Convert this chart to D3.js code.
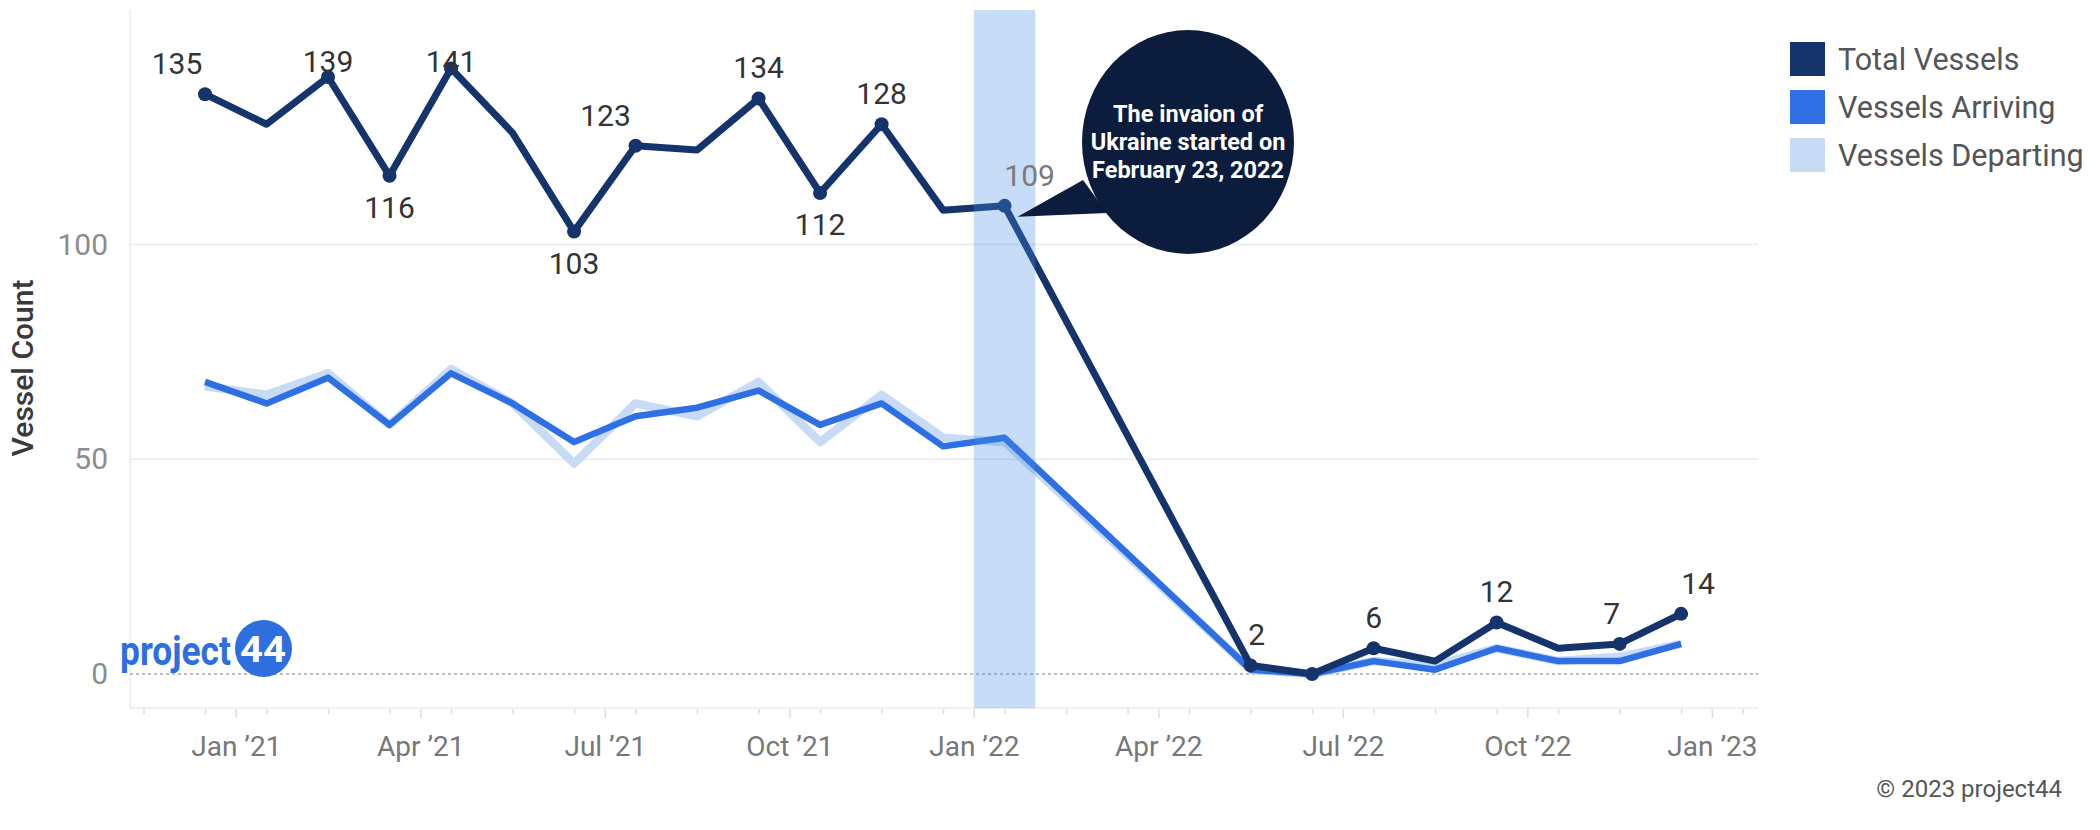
<!DOCTYPE html>
<html>
<head>
<meta charset="utf-8">
<script src="https://cdn.jsdelivr.net/npm/d3@7"></script>
<style>
  body { margin: 0; background: #fff; }
  svg { display: block; font-family: Roboto, "Noto Sans", sans-serif; }
</style>
</head>
<body>
<div id="chart"></div>
<script>
// data (months with no data, Feb-Apr 2022, are skipped)
const months = ["2020-12", "2021-01", "2021-02", "2021-03", "2021-04", "2021-05", "2021-06",
  "2021-07", "2021-08", "2021-09", "2021-10", "2021-11", "2021-12", "2022-01",
  "2022-05", "2022-06", "2022-07", "2022-08", "2022-09", "2022-10", "2022-11", "2022-12"];
const totalVessels     = [135, 128, 139, 116, 141, 126, 103, 123, 122, 134, 112, 128, 108, 109, 2, 0, 6, 3, 12, 6, 7, 14];
const vesselsArriving  = [68, 63, 69, 58, 70, 63, 54, 60, 62, 66, 58, 63, 53, 55, 1, 0, 3, 1, 6, 3, 3, 7];
const vesselsDeparting = [67, 65, 70, 58, 71, 63, 49, 63, 60, 68, 54, 65, 55, 54, 1, 0, 3, 2, 6, 3, 4, 7];

const seriesNames = ["Total Vessels", "Vessels Arriving", "Vessels Departing"];
const xTickMonths = ["2021-01", "2021-04", "2021-07", "2021-10", "2022-01", "2022-04", "2022-07", "2022-10", "2023-01"];
const xTickLabels = ["Jan \u201921", "Apr \u201921", "Jul \u201921", "Oct \u201921", "Jan \u201922", "Apr \u201922", "Jul \u201922", "Oct \u201922", "Jan \u201923"];
const yTicks = [0, 50, 100];
const bandMonth = "2022-01";
const calloutLines = ["The invaion of", "Ukraine started on", "February 23, 2022"];

// label layout for the total line (which months get a label and where)
const labelLayout = {
  "2020-12": {dx: -28}, "2021-02": {}, "2021-03": {below: true}, "2021-04": {},
  "2021-06": {below: true}, "2021-07": {dx: -30}, "2021-09": {}, "2021-10": {below: true},
  "2021-11": {}, "2022-01": {dx: 25, muted: true}, "2022-05": {dx: 6}, "2022-07": {},
  "2022-09": {}, "2022-11": {dx: -8}, "2022-12": {dx: 17}
};
const dotMonths = Object.keys(labelLayout).concat(["2022-06"]);

const colors = {total: "#15346b", arriving: "#2e6fe3", departing: "#c8dbf6"};

const width = 2100, height = 830;
const plot = {left: 130, right: 1758, top: 10, bottom: 708};

// month index: Dec 2020 = 0
const monthIndex = m => {
  const [yy, mm] = m.split("-").map(Number);
  return (yy - 2020) * 12 + (mm - 1) - 11;
};

const rows = months.map((m, i) => ({
  month: m, i: monthIndex(m),
  total: totalVessels[i], arriving: vesselsArriving[i], departing: vesselsDeparting[i]
}));

const x = d3.scaleLinear().domain([-1.22, 25.25]).range([plot.left, plot.right]);
const y = d3.scaleLinear().domain([-7.92, 154.6]).range([plot.bottom, plot.top]);

const svg = d3.select("#chart").append("svg")
  .attr("width", width)
  .attr("height", height);

// pane border + gridlines
svg.append("line")
  .attr("x1", plot.left).attr("x2", plot.left)
  .attr("y1", plot.top).attr("y2", plot.bottom)
  .attr("stroke", "#f0f0f0").attr("stroke-width", 2);

svg.append("line")
  .attr("x1", plot.left).attr("x2", plot.right)
  .attr("y1", plot.bottom).attr("y2", plot.bottom)
  .attr("stroke", "#f0f0f0").attr("stroke-width", 2);

svg.append("g")
  .selectAll("line")
  .data(yTicks.filter(d => d !== 0))
  .join("line")
    .attr("x1", plot.left).attr("x2", plot.right)
    .attr("y1", d => y(d)).attr("y2", d => y(d))
    .attr("stroke", "#eeeeee").attr("stroke-width", 2);

// zero line is dotted
svg.append("line")
  .attr("x1", plot.left).attr("x2", plot.right)
  .attr("y1", y(0)).attr("y2", y(0))
  .attr("stroke", "#bdbdbd").attr("stroke-width", 2)
  .attr("stroke-dasharray", "3,3");

// y axis
const yAxis = svg.append("g")
  .attr("transform", `translate(${plot.left},0)`)
  .call(d3.axisLeft(y).tickValues(yTicks).tickSize(0).tickPadding(22));
yAxis.select(".domain").remove();
yAxis.selectAll("text")
  .attr("font-family", "Roboto, sans-serif")
  .attr("font-size", 30)
  .attr("fill", "#8c8c8c");

// x axis: minor ticks at each month, major ticks + labels at quarter starts
const minorAxis = svg.append("g")
  .attr("transform", `translate(0,${plot.bottom + 1})`)
  .call(d3.axisBottom(x).tickValues(d3.range(-1, 26)).tickSize(5).tickFormat(""));
minorAxis.select(".domain").remove();
minorAxis.selectAll("line").attr("stroke", "#dddddd").attr("stroke-width", 1.5);

const xAxis = svg.append("g")
  .attr("transform", `translate(0,${plot.bottom + 1})`)
  .call(d3.axisBottom(x)
    .tickValues(xTickMonths.map(m => monthIndex(m) - 0.5))
    .tickFormat((d, i) => xTickLabels[i])
    .tickSize(9)
    .tickPadding(18));
xAxis.select(".domain").remove();
xAxis.selectAll("line").attr("stroke", "#dddddd").attr("stroke-width", 1.5);
xAxis.selectAll("text")
  .attr("font-family", "Roboto, sans-serif")
  .attr("font-size", 28)
  .attr("fill", "#777");

// y axis title
svg.append("text")
  .attr("transform", "translate(33,368) rotate(-90)")
  .attr("text-anchor", "middle")
  .attr("font-size", 30)
  .attr("font-weight", 500)
  .attr("fill", "#3a3a3a")
  .text("Vessel Count");

// lines
const lineFor = key => d3.line().x(d => x(d.i)).y(d => y(d[key]));

svg.append("path")
  .datum(rows)
  .attr("d", lineFor("departing"))
  .attr("fill", "none")
  .attr("stroke", colors.departing)
  .attr("stroke-width", 8.5)
  .attr("stroke-linejoin", "round");

svg.append("path")
  .datum(rows)
  .attr("d", lineFor("arriving"))
  .attr("fill", "none")
  .attr("stroke", colors.arriving)
  .attr("stroke-width", 6.5)
  .attr("stroke-linejoin", "round");

svg.append("path")
  .datum(rows)
  .attr("d", lineFor("total"))
  .attr("fill", "none")
  .attr("stroke", colors.total)
  .attr("stroke-width", 7)
  .attr("stroke-linejoin", "round");

svg.append("g")
  .selectAll("circle")
  .data(rows.filter(d => dotMonths.includes(d.month)))
  .join("circle")
    .attr("cx", d => x(d.i))
    .attr("cy", d => y(d.total))
    .attr("r", 7)
    .attr("fill", colors.total);

// highlight band for the invasion month, drawn over the lines
const bi = monthIndex(bandMonth);
svg.append("rect")
  .attr("x", x(bi - 0.5))
  .attr("y", plot.top)
  .attr("width", x(bi + 0.5) - x(bi - 0.5))
  .attr("height", plot.bottom - plot.top)
  .attr("fill", "rgb(70,140,230)")
  .attr("opacity", 0.3);

// value labels
svg.append("g")
  .selectAll("text")
  .data(rows.filter(d => labelLayout[d.month]))
  .join("text")
    .attr("x", d => x(d.i) + (labelLayout[d.month].dx || 0))
    .attr("y", d => labelLayout[d.month].below ? y(d.total) + 42 : Math.max(y(d.total) - 20, 72))
    .attr("text-anchor", "middle")
    .attr("font-size", 30)
    .attr("fill", d => labelLayout[d.month].muted ? "#7a7a7a" : "#333")
    .text(d => d.total);

// callout bubble
const band = rows.find(d => d.month === bandMonth);
const tipX = x(band.i) + 13, tipY = y(band.total) + 11;
const callout = svg.append("g");
callout.append("polygon")
  .attr("points", [[1083, 180], [tipX, tipY], [1107, 213]].map(p => p.join(",")).join(" "))
  .attr("fill", "#0b1c3c");
callout.append("ellipse")
  .attr("cx", 1188).attr("cy", 142)
  .attr("rx", 106).attr("ry", 112)
  .attr("fill", "#0b1c3c");
callout.selectAll("text.callout")
  .data(calloutLines)
  .join("text")
    .attr("class", "callout")
    .attr("x", 1188)
    .attr("y", (d, i) => 122 + i * 28)
    .attr("text-anchor", "middle")
    .attr("font-size", 23.5)
    .attr("font-weight", 700)
    .attr("fill", "#fff")
    .text(d => d);

// legend
const legend = svg.append("g").attr("transform", "translate(1790,42)");
const legendColors = [colors.total, colors.arriving, colors.departing];
const item = legend.selectAll("g")
  .data(seriesNames)
  .join("g")
    .attr("transform", (d, i) => `translate(0,${i * 48})`);
item.append("rect")
  .attr("width", 35).attr("height", 34)
  .attr("fill", (d, i) => legendColors[i]);
item.append("text")
  .attr("x", 48).attr("y", 28)
  .attr("font-size", 30.5)
  .attr("fill", "#555")
  .text(d => d);

// project44 logo
const logo = svg.append("g");
logo.append("text")
  .attr("x", 120).attr("y", 665)
  .attr("font-size", 40)
  .attr("font-weight", 700)
  .attr("fill", "#2e6fe0")
  .attr("textLength", 111)
  .attr("lengthAdjust", "spacingAndGlyphs")
  .text("project");
logo.append("circle")
  .attr("cx", 263.5).attr("cy", 648.5).attr("r", 28.5)
  .attr("fill", "#2e6fe0");
logo.append("text")
  .attr("x", 240).attr("y", 662)
  .attr("font-size", 36)
  .attr("font-weight", 700)
  .attr("fill", "#fff")
  .attr("textLength", 46)
  .attr("lengthAdjust", "spacingAndGlyphs")
  .text("44");

// footer
svg.append("text")
  .attr("x", 2062).attr("y", 797)
  .attr("text-anchor", "end")
  .attr("font-size", 24)
  .attr("fill", "#555")
  .text("\u00a9 2023 project44");
</script>
</body>
</html>
